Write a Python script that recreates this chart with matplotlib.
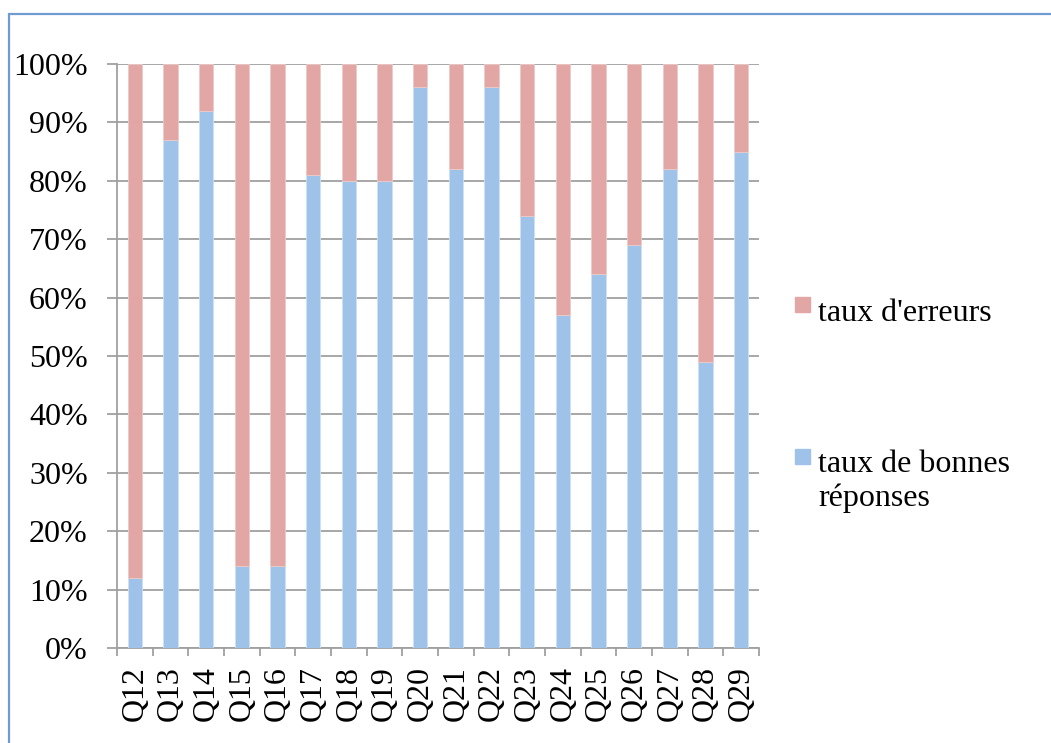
import matplotlib
matplotlib.use("Agg")
import matplotlib.pyplot as plt
from matplotlib.patches import Rectangle
from matplotlib.ticker import FixedLocator, PercentFormatter

plt.rcParams['font.family'] = ['Liberation Serif', 'DejaVu Serif']

questions = ["Q12", "Q13", "Q14", "Q15", "Q16", "Q17", "Q18", "Q19", "Q20",
             "Q21", "Q22", "Q23", "Q24", "Q25", "Q26", "Q27", "Q28", "Q29"]
good_rate = [12, 87, 92, 14, 14, 81, 80, 80, 96,
             82, 96, 74, 57, 64, 69, 82, 49, 85]
error_rate = [100 - g for g in good_rate]

label_errors = "taux d'erreurs"
label_good = "taux de bonnes\nréponses"

blue = "#9fc2e9"
red = "#e2a7a5"
grid_gray = "#a0a0a0"
fs = 23

W, H = 1051, 743
fig = plt.figure(figsize=(W / 100, H / 100), dpi=100)

# outer chart frame (top and left edges visible)
fig.patches.append(Rectangle((9 / W, -0.1), 1.2, 1 - 14 / H + 0.1,
                             transform=fig.transFigure, fill=False,
                             edgecolor="#6f9bd0", linewidth=1.6))

ax = fig.add_axes([117 / W, 1 - 648 / H, 642 / W, 584 / H])
x = list(range(len(questions)))
ax.bar(x, good_rate, width=0.4, color=blue, edgecolor="#cfe0f4",
       linewidth=0.6, zorder=3)
ax.bar(x, error_rate, bottom=good_rate, width=0.4, color=red,
       edgecolor="#eccac9", linewidth=0.6, zorder=3)

ax.set_xlim(-0.5, len(questions) - 0.5)
ax.set_ylim(0, 100)
ax.set_yticks(range(0, 101, 10))
ax.yaxis.set_major_formatter(PercentFormatter(decimals=0))
ax.yaxis.grid(True, color=grid_gray, linewidth=1.3, zorder=0)
ax.set_axisbelow(True)

ax.set_xticks(x)
ax.set_xticklabels(questions, rotation=90, fontsize=fs)
ax.xaxis.set_minor_locator(FixedLocator([i - 0.5 for i in range(len(questions) + 1)]))
ax.tick_params(axis="x", which="major", length=0, pad=13)
ax.tick_params(axis="x", which="minor", length=6, width=1.3, color=grid_gray)
ax.tick_params(axis="y", length=7, width=1.3, color=grid_gray,
               labelsize=fs, pad=14)

for side in ("top", "right"):
    ax.spines[side].set_visible(False)
for side in ("left", "bottom"):
    ax.spines[side].set_color(grid_gray)
    ax.spines[side].set_linewidth(1.3)

# legend entries
fig.patches.append(Rectangle((795 / W, 1 - 312 / H), 15 / W, 15 / H,
                             transform=fig.transFigure, color=red))
fig.text(818 / W, 1 - 313 / H, label_errors, fontsize=fs, va="center", ha="left")
fig.patches.append(Rectangle((795 / W, 1 - 464 / H), 15 / W, 15 / H,
                             transform=fig.transFigure, color=blue))
fig.text(818 / W, 1 - 450 / H, label_good, fontsize=fs, va="top", ha="left",
         linespacing=1.2)

fig.savefig("out.png", dpi=100, facecolor="white")
